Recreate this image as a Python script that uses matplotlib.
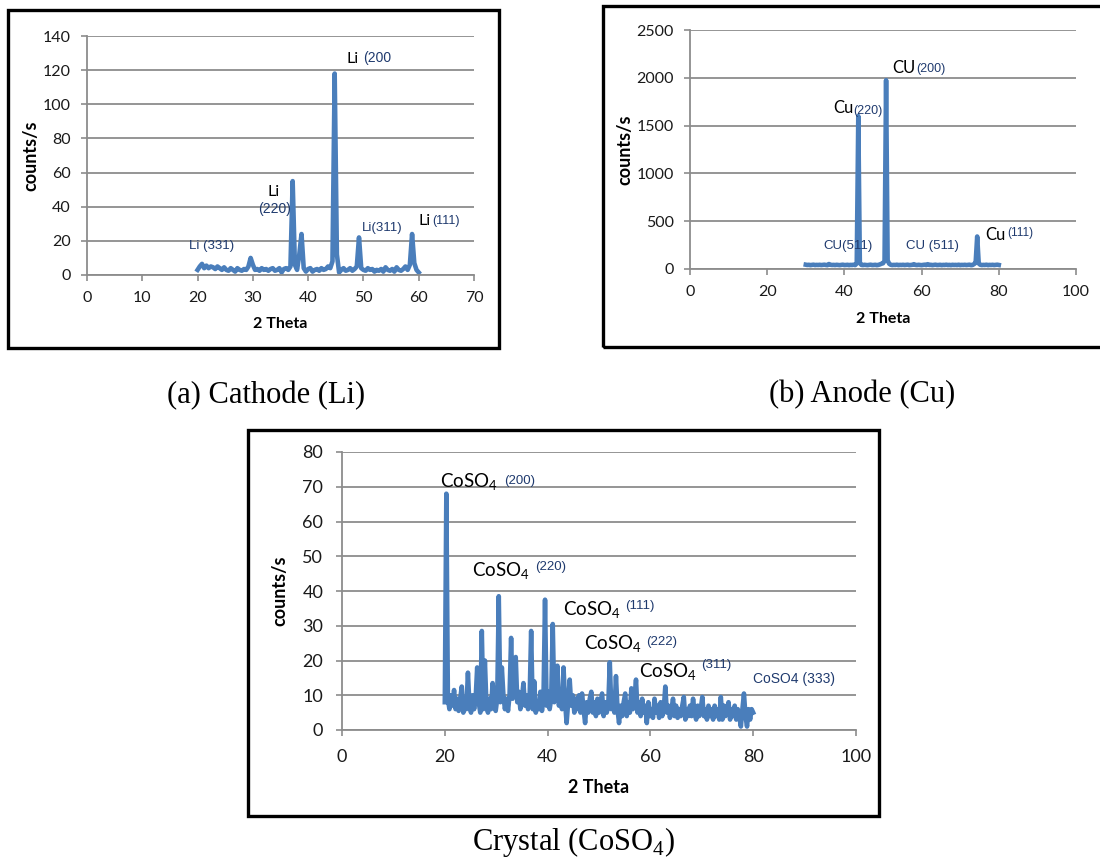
import numpy as np
import matplotlib
matplotlib.use('Agg')
import matplotlib.pyplot as plt
from matplotlib.patches import Rectangle

# ---------------- data ----------------
# (a) Cathode (Li): 2-theta grid 20..60 step 0.4
li_start, li_step = 20.0, 0.4
li_counts = [3, 5, 6.5, 4, 5.5, 4, 5, 4.5, 3.5, 5,
             4, 3, 4.5, 3, 2.5, 4, 3, 2, 4, 3,
             2.5, 3.5, 3, 5, 10, 6, 3, 3.5, 2.5, 4,
             3, 3.5, 2.5, 3.5, 4, 2.5, 3, 4, 1.5, 3.5,
             4, 3, 5, 55, 6, 3, 12, 24, 4, 2,
             3.5, 4, 2, 3, 3.5, 2.5, 4, 3, 3.5, 5,
             4, 8, 118, 12, 1.5, 3, 4, 2.5, 3, 4,
             2.5, 3.5, 5, 22, 4, 3, 2.5, 4, 3, 3.5,
             2, 3, 2.5, 3.5, 2, 4.5, 3, 2.5, 3.5, 2,
             4.5, 3, 2.5, 3.5, 5, 3, 6, 24, 7, 3,
             1.5]

# (b) Anode (Cu): 2-theta grid 30..80 step 0.4
cu_start, cu_step = 30.0, 0.4
cu_counts = [45, 42, 44, 40, 43, 45, 41, 43, 42, 44,
             41, 43, 45, 42, 40, 52, 44, 42, 43, 41,
             44, 42, 40, 43, 45, 41, 42, 44, 40, 43,
             42, 45, 41, 58, 1600, 62, 43, 41, 44, 42,
             40, 43, 45, 41, 42, 44, 40, 43, 48, 55,
             60, 85, 1975, 90, 55, 44, 41, 43, 42, 45,
             40, 43, 42, 44, 41, 43, 45, 40, 42, 44,
             50, 43, 41, 44, 42, 40, 43, 45, 41, 50,
             42, 44, 40, 43, 45, 41, 42, 44, 40, 43,
             42, 45, 41, 43, 40, 44, 42, 43, 41, 45,
             40, 43, 42, 44, 41, 43, 45, 40, 42, 52,
             65, 340, 58, 44, 41, 43, 42, 45, 40, 43,
             42, 44, 41, 43, 45, 42]

# (c) Crystal (CoSO4): 2-theta grid 20..80 step 0.3
co_start, co_step = 20.0, 0.3
co_counts = [8, 68, 9, 6, 10, 7, 11.5, 6, 9, 5.5,
             9, 12.5, 5, 8, 6, 16.5, 7, 5, 10, 6,
             9, 18, 8, 5, 28.5, 6, 20, 7, 5, 9,
             6, 13.5, 8, 5.5, 9, 38.5, 8, 18, 10, 6,
             9, 5.5, 10, 26.5, 9, 14, 21, 8, 11, 6,
             9, 13.5, 7, 10, 6, 9, 28.5, 6, 14, 5,
             8, 6, 11, 5.5, 9, 37.5, 7, 11, 6, 9,
             30.5, 8, 13, 18.5, 7, 10, 6, 18, 8, 2,
             8, 14.5, 7, 10, 5, 9, 6, 10, 5, 10.5,
             6, 2, 8, 5, 9, 11, 5, 8, 4, 9,
             5, 8, 10.5, 4, 8, 5, 7, 19.5, 6, 9,
             5, 15.5, 6, 2, 7, 4, 8, 10.5, 4, 8,
             5, 12, 6, 9, 14.5, 5, 8, 4, 9, 5,
             7, 2, 8, 4, 6, 3.5, 9, 5, 7, 3.5,
             8, 4, 6, 12.5, 5, 7, 3.5, 6, 9, 4,
             7, 3.5, 6, 4, 7, 9.5, 3, 6, 4, 7,
             4, 9, 5, 3, 7, 4, 6, 9.5, 4, 6,
             3, 7, 4, 6, 3, 7, 4, 6, 3, 9.5,
             3, 7, 4, 6, 8, 3, 6, 4, 7, 3,
             6, 4, 1, 6, 10.5, 4, 1, 6, 3, 6,
             5]

li_ticks_x = [0, 10, 20, 30, 40, 50, 60, 70]
li_ticks_y = [0, 20, 40, 60, 80, 100, 120, 140]
cu_ticks_x = [0, 20, 40, 60, 80, 100]
cu_ticks_y = [0, 500, 1000, 1500, 2000, 2500]
co_ticks_x = [0, 20, 40, 60, 80, 100]
co_ticks_y = [0, 10, 20, 30, 40, 50, 60, 70, 80]

li_theta = li_start + li_step * np.arange(len(li_counts))
cu_theta = cu_start + cu_step * np.arange(len(cu_counts))
co_theta = co_start + co_step * np.arange(len(co_counts))

# ---------------- style ----------------
LINE = '#4A7EBB'
GRID = '#8C8C8C'
NAVY = '#1F3A6E'
SANS = 'Lato'
LAB = 'Liberation Sans'
SERIF = 'Liberation Serif'
LW = 3.3

W, H = 1100, 861
fig = plt.figure(figsize=(W / 100, H / 100), dpi=100)


def rect(l, r, t, b):
    return [l / W, 1 - b / H, (r - l) / W, (b - t) / H]


def frame(x0, x1, y0, y1):
    fig.patches.append(Rectangle((x0 / W, 1 - y1 / H), (x1 - x0) / W, (y1 - y0) / H,
                                 transform=fig.transFigure, fill=False,
                                 lw=2.4, ec='black', zorder=10))


def style(ax, xt, yt, fs, xfs, yfs, pad):
    ax.set_xlim(xt[0], xt[-1])
    ax.set_ylim(yt[0], yt[-1])
    ax.set_xticks(xt)
    ax.set_yticks(yt)
    for s in ['top', 'right']:
        ax.spines[s].set_visible(False)
    for s in ['left', 'bottom']:
        ax.spines[s].set_color(GRID)
        ax.spines[s].set_linewidth(1.3)
    ax.grid(axis='y', color=GRID, lw=1.3)
    ax.set_axisbelow(True)
    ax.tick_params(direction='out', length=4.5, width=1.2, color=GRID,
                   labelsize=fs, pad=pad, labelcolor='#1a1a1a')
    for lab in ax.get_xticklabels() + ax.get_yticklabels():
        lab.set_fontfamily(SANS)
    ax.set_xlabel('2 Theta', fontsize=xfs, fontweight='bold', family=SANS)
    ax.set_ylabel('counts/s', fontsize=yfs, fontweight='bold', family=SANS)


def ann(ax, x, y, s, fs, color='black', family=SANS, ha='left'):
    ax.text(x, y, s, fontsize=fs, color=color, family=family, ha=ha, va='baseline')


# ---------------- (a) Cathode ----------------
frame(8, 499, 10, 348)
ax1 = fig.add_axes(rect(87, 474, 36, 275))
ax1.plot(li_theta, li_counts, color=LINE, lw=LW, solid_joinstyle='round')
style(ax1, li_ticks_x, li_ticks_y, 11.5, 11.5, 13, 7)
ax1.xaxis.set_label_coords(0.5, -0.175)
ax1.yaxis.set_label_coords(-0.122, 0.5)
ann(ax1, 18.5, 15.0, 'Li (331)', 9.5, NAVY, LAB)
ann(ax1, 33.7, 46.3, 'Li', 11.5, ha='center')
ann(ax1, 33.9, 36.3, '(220)', 10, NAVY, LAB, ha='center')
ann(ax1, 47.0, 124.2, 'Li', 11.5)
ann(ax1, 50.0, 124.8, '(200', 10, NAVY, LAB)
ann(ax1, 49.8, 25.6, 'Li(311)', 9.5, NAVY, LAB)
ann(ax1, 59.9, 29.1, 'Li', 11.5)
ann(ax1, 62.4, 30.1, '(111)', 9, NAVY, LAB)

# ---------------- (b) Anode ----------------
frame(603, 1110, 6, 347)
ax2 = fig.add_axes(rect(690, 1076, 30, 269))
ax2.plot(cu_theta, cu_counts, color=LINE, lw=LW, solid_joinstyle='round')
style(ax2, cu_ticks_x, cu_ticks_y, 11.5, 11.5, 13, 7)
ax2.xaxis.set_label_coords(0.5, -0.18)
ax2.yaxis.set_label_coords(-0.147, 0.5)
ann(ax2, 52.3, 2051, 'CU', 12)
ann(ax2, 58.6, 2062, '(200)', 9, NAVY, LAB)
ann(ax2, 37.1, 1627, 'Cu', 12)
ann(ax2, 42.3, 1620, '(220)', 9, NAVY, LAB)
ann(ax2, 34.6, 212, 'CU(511)', 9.5, NAVY, LAB)
ann(ax2, 56.0, 212, 'CU (511)', 9.5, NAVY, LAB)
ann(ax2, 76.5, 299, 'Cu', 12)
ann(ax2, 82.1, 348, '(111)', 8.5, NAVY, LAB)

# ---------------- (c) Crystal ----------------
frame(248, 879, 430, 816)
ax3 = fig.add_axes(rect(342, 856, 452, 730))
ax3.plot(co_theta, co_counts, color=LINE, lw=LW, solid_joinstyle='round')
style(ax3, co_ticks_x, co_ticks_y, 13, 13, 13, 9)
ax3.xaxis.set_label_coords(0.5, -0.175)
ax3.yaxis.set_label_coords(-0.105, 0.5)
CO = r'CoSO$_\mathregular{4}$'
CFS = 13.5
ann(ax3, 19.0, 69.7, CO, CFS)
ann(ax3, 31.6, 70.8, '(200)', 9.5, NAVY, LAB)
ann(ax3, 25.3, 44.1, CO, CFS)
ann(ax3, 37.5, 46.1, '(220)', 9.5, NAVY, LAB)
ann(ax3, 42.9, 33.0, CO, CFS)
ann(ax3, 55.0, 34.7, '(111)', 9.5, NAVY, LAB)
ann(ax3, 47.1, 23.1, CO, CFS)
ann(ax3, 59.2, 24.4, '(222)', 9.5, NAVY, LAB)
ann(ax3, 57.8, 15.0, CO, CFS)
ann(ax3, 69.8, 17.7, '(311)', 9.5, NAVY, LAB)
ann(ax3, 80.0, 13.4, 'CoSO4 (333)', 10, NAVY, LAB)

# ---------------- captions ----------------
fig.text(266 / W, 1 - 403 / H, '(a) Cathode (Li)', fontsize=22, family=SERIF,
         ha='center', va='baseline')
fig.text(862 / W, 1 - 402 / H, '(b) Anode (Cu)', fontsize=22, family=SERIF,
         ha='center', va='baseline')
fig.text(574 / W, 1 - 850 / H, r'Crystal (CoSO$_\mathregular{4}$)', fontsize=22,
         family=SERIF, ha='center', va='baseline')

fig.savefig('out.png', dpi=100)
